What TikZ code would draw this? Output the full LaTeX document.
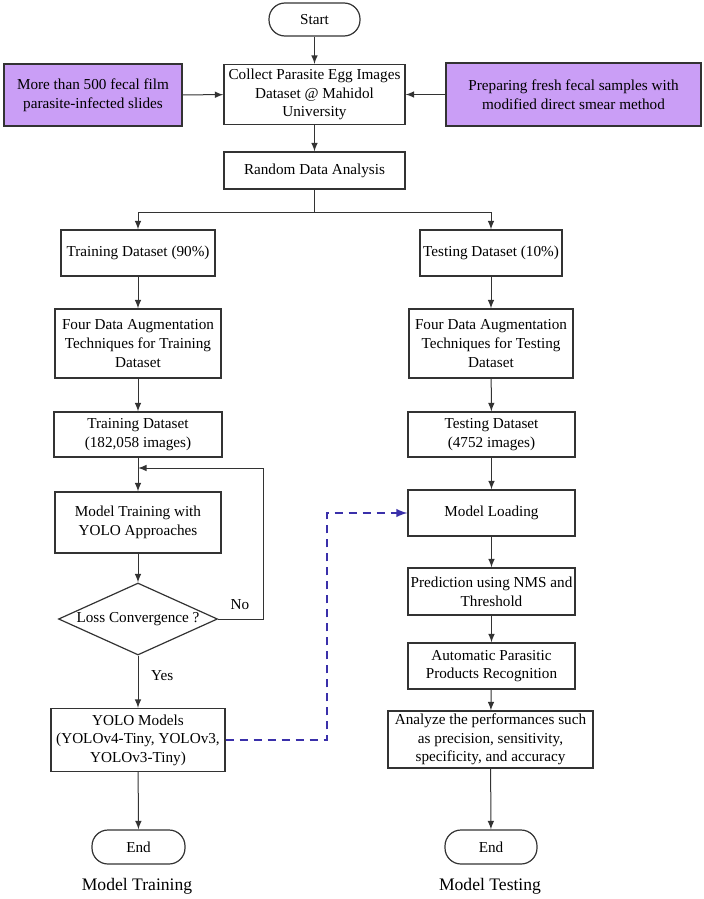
\documentclass[tikz,border=0pt]{standalone}
\usepackage{fontspec}
\setmainfont{Liberation Serif}
\usetikzlibrary{arrows,shapes.geometric,positioning}
\definecolor{srcpurple}{RGB}{202,158,246}
\definecolor{dashblue}{RGB}{58,48,170}

\begin{document}
\begin{tikzpicture}[x=0.5pt,y=-0.5pt,
  box/.style={draw=black!80,line width=0.6pt,fill=white,align=center,inner sep=1pt,
    font=\fontsize{7.6}{9.3}\selectfont},
  srcbox/.style={box,fill=srcpurple},
  term/.style={box,rounded corners=8pt},
  decide/.style={box,diamond,shape aspect=2.2,inner sep=0pt},
  flow/.style={-latex,line width=0.5pt,draw=black!80},
  lbl/.style={font=\fontsize{7.6}{9.3}\selectfont},
  captext/.style={font=\fontsize{8.8}{10}\selectfont}]
  \useasboundingbox (0,0) rectangle (703,899);
  %top part
  \node [term,minimum width=45.5pt,minimum height=16.5pt] (start) at (314.5,19.5) {Start};
  \node [box,minimum width=90.5pt,minimum height=30pt] (collect) at (314.5,94.5)
    {Collect Parasite Egg Images\\Dataset @ Mahidol\\University};
  \node [srcbox,minimum width=89pt,minimum height=31pt] (slides) at (93,95)
    {More than 500 fecal film\\parasite-infected slides};
  \node [srcbox,minimum width=127.5pt,minimum height=31.5pt] (smear) at (573.5,94.5)
    {Preparing fresh fecal samples with\\modified direct smear method};
  \node [box,minimum width=90.5pt,minimum height=18.5pt] (random) at (314.5,170.5) {Random Data Analysis};
  \coordinate (split) at (314.5,212);
  %training branch
  \node [box,minimum width=77pt,minimum height=23pt] (train) at (138,253) {Training Dataset (90\%)};
  \node [box,minimum width=83pt,minimum height=34.5pt] (augtrain) at (138,343.5)
    {Four Data Augmentation\\Techniques for Training\\Dataset};
  \node [box,minimum width=84pt,minimum height=22.5pt] (trainset) at (138,434.5)
    {Training Dataset\\(182,058 images)};
  \node [box,minimum width=83pt,minimum height=30.5pt] (modeltrain) at (138,522.5)
    {Model Training with\\YOLO Approaches};
  \node [decide,minimum width=79.5pt,minimum height=36pt] (conv) at (138,619) {Loss Convergence ?};
  \node [box,minimum width=87pt,minimum height=31.5pt] (yolo) at (138,740)
    {YOLO Models\\(YOLOv4-Tiny, YOLOv3,\\YOLOv3-Tiny)};
  \node [term,minimum width=46.5pt,minimum height=17pt] (endtrain) at (138.5,847) {End};
  \node [captext] (captrain) at (137,886) {Model Training};
  \coordinate (loopr) at (263,468);
  \coordinate (loopin) at (138,468);
  %testing branch
  \node [box,minimum width=71pt,minimum height=23pt] (test) at (491,253) {Testing Dataset (10\%)};
  \node [box,minimum width=82pt,minimum height=34.5pt] (augtest) at (491,343.5)
    {Four Data Augmentation\\Techniques for Testing\\Dataset};
  \node [box,minimum width=83.5pt,minimum height=22.5pt] (testset) at (491.5,434.5)
    {Testing Dataset\\(4752 images)};
  \node [box,minimum width=83.5pt,minimum height=23pt] (load) at (491.5,513) {Model Loading};
  \node [box,minimum width=83.5pt,minimum height=23.5pt] (pred) at (491.5,591.5)
    {Prediction using NMS and\\Threshold};
  \node [box,minimum width=83.5pt,minimum height=23pt] (auto) at (491.5,666)
    {Automatic Parasitic\\Products Recognition};
  \node [box,minimum width=102.5pt,minimum height=28.5pt] (analyze) at (490.5,739.5)
    {Analyze the performances such\\as precision, sensitivity,\\specificity, and accuracy};
  \node [term,minimum width=46pt,minimum height=17pt] (endtest) at (491,847) {End};
  \node [captext] (captest) at (490,886) {Model Testing};
  \coordinate (dashc) at (327,740);
  %connectors
  \draw [flow] (start) -- (collect);
  \draw [flow] (slides) -- (collect);
  \draw [flow] (smear) -- (collect);
  \draw [flow] (collect) -- (random);
  \draw [line width=0.5pt,black!80] (random) -- (split);
  \draw [flow] (split) -| (train);
  \draw [flow] (split) -| (test);
  \draw [flow] (train) -- (augtrain);
  \draw [flow] (augtrain) -- (trainset);
  \draw [flow] (trainset) -- (modeltrain);
  \draw [flow] (modeltrain) -- (conv);
  \draw [flow] (conv) -- (yolo) node [lbl,pos=0.38,right=3pt] (yes) {Yes};
  \draw [flow] (conv.east) -| (loopr) -- (loopin);
  \node [lbl] (no) at (240,605) {No};
  \draw [flow] (yolo) -- (endtrain);
  \draw [flow] (test) -- (augtest);
  \draw [flow] (augtest) -- (testset);
  \draw [flow] (testset) -- (load);
  \draw [flow] (load) -- (pred);
  \draw [flow] (pred) -- (auto);
  \draw [flow] (auto) -- (analyze);
  \draw [flow] (analyze) -- (endtest);
  %dashed model hand-over
  \draw [-latex,draw=dashblue,line width=0.9pt,dash pattern=on 4pt off 3pt] (yolo.east) -- (dashc) |- (load.west);
\end{tikzpicture}
\end{document}
